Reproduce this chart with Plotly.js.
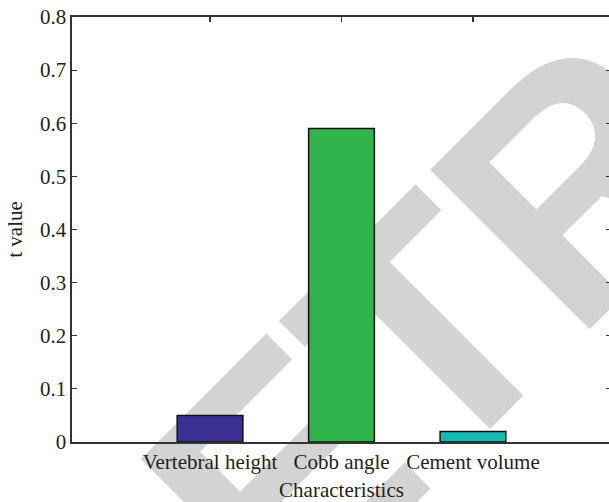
<!DOCTYPE html>
<html>
<head>
<meta charset="utf-8">
<script src="https://cdn.plot.ly/plotly-3.0.1.min.js"></script>
<style>
  html, body { margin: 0; padding: 0; background: #ffffff; overflow: hidden; width: 609px; height: 502px; }
  #wm { position: absolute; left: 0; top: 0; z-index: 0; }
  #chart { position: absolute; left: 0; top: 0; z-index: 1; }
</style>
</head>
<body>
<svg id="wm" width="609" height="502" xmlns="http://www.w3.org/2000/svg">
  <g transform="rotate(-45 123 796)">
    <text y="796" font-family="Liberation Sans" font-weight="bold" font-size="328" fill="#d3d3d3" style="font-kerning:none">
      <tspan x="121">R</tspan><tspan x="352">E</tspan><tspan x="565.5">T</tspan><tspan x="761">R</tspan><tspan x="992">A</tspan><tspan x="1223">C</tspan><tspan x="1454">T</tspan><tspan x="1649.5">E</tspan><tspan x="1863">D</tspan>
    </text>
  </g>
</svg>
<div id="chart"></div>
<script>
const categories = ['Vertebral height', 'Cobb angle', 'Cement volume'];
const tValues = [0.05, 0.59, 0.02];
const barColors = ['#3a3094', '#31b44c', '#14bab0'];
const yTickVals = [0, 0.1, 0.2, 0.3, 0.4, 0.5, 0.6, 0.7, 0.8];
const yTickText = ['0', '0.1', '0.2', '0.3', '0.4', '0.5', '0.6', '0.7', '0.8'];

const fontFam = 'Liberation Serif, Times New Roman, serif';

const trace = {
  type: 'bar',
  x: categories,
  y: tValues,
  width: 0.5,
  marker: { color: barColors, line: { color: '#111111', width: 1.5 } },
  hoverinfo: 'x+y'
};

const axisCommon = {
  showline: true,
  linecolor: '#333333',
  linewidth: 1.6,
  mirror: 'allticks',
  ticks: 'inside',
  ticklen: 5,
  tickwidth: 1.2,
  tickcolor: '#333333',
  showgrid: false,
  zeroline: false,
  layer: 'below traces',
  tickfont: { family: fontFam, size: 21, color: '#231f20' }
};

const layout = {
  width: 640,
  height: 502,
  margin: { l: 72, r: 29, t: 17, b: 60 },
  paper_bgcolor: 'rgba(0,0,0,0)',
  plot_bgcolor: 'rgba(0,0,0,0)',
  showlegend: false,
  bargap: 0.5,
  xaxis: Object.assign({}, axisCommon, {
    type: 'category',
    range: [-1.05, 3.05],
    title: { text: 'Characteristics', font: { family: fontFam, size: 21, color: '#231f20' }, standoff: 9 }
  }),
  yaxis: Object.assign({}, axisCommon, {
    range: [0, 0.8],
    tickvals: yTickVals,
    ticktext: yTickText,
    title: { text: 't value', font: { family: fontFam, size: 21, color: '#231f20' }, standoff: 11 }
  })
};

Plotly.newPlot('chart', [trace], layout, { displayModeBar: false, staticPlot: true });
</script>
</body>
</html>
